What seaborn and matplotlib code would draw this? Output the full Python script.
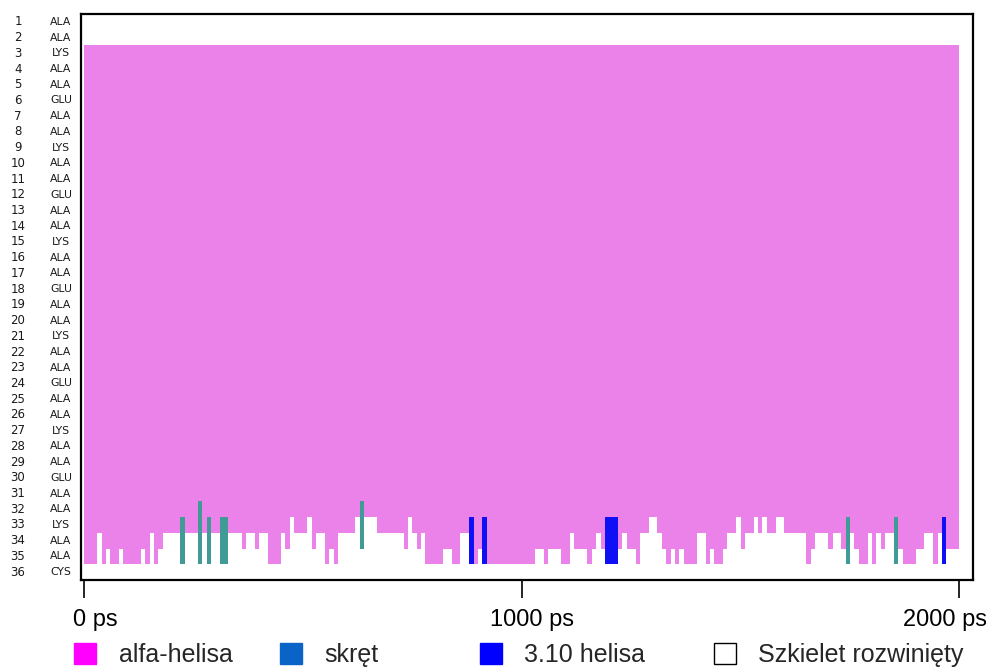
import numpy as np
import pandas as pd
import matplotlib
matplotlib.use("Agg")
import matplotlib.pyplot as plt
import matplotlib.transforms as mtransforms
import seaborn as sns
from matplotlib.colors import ListedColormap
from matplotlib.patches import Patch

# ---------------- data ----------------
residue_numbers = list(range(1, 37))
residue_names = ['ALA', 'ALA', 'LYS', 'ALA', 'ALA', 'GLU', 'ALA', 'ALA', 'LYS',
                 'ALA', 'ALA', 'GLU', 'ALA', 'ALA', 'LYS', 'ALA', 'ALA', 'GLU',
                 'ALA', 'ALA', 'LYS', 'ALA', 'ALA', 'GLU', 'ALA', 'ALA', 'LYS',
                 'ALA', 'ALA', 'GLU', 'ALA', 'ALA', 'LYS', 'ALA', 'ALA', 'CYS']

frame_ps = 10
helix_start = 3
# last alpha-helical residue in each frame (200 frames, 10 ps each)
helix_end = [
    35, 35, 35, 33, 35, 34, 35, 35, 34, 35,
    35, 35, 35, 34, 35, 33, 35, 34, 33, 33,
    33, 33, 32, 33, 33, 33, 31, 33, 32, 33,
    33, 32, 32, 33, 33, 33, 34, 33, 33, 34,
    33, 33, 35, 35, 35, 33, 34, 32, 33, 33,
    33, 32, 34, 33, 33, 35, 34, 35, 33, 33,
    33, 33, 32, 31, 32, 32, 32, 33, 33, 33,
    33, 33, 33, 34, 32, 33, 34, 33, 35, 35,
    35, 35, 34, 34, 35, 35, 33, 33, 32, 35,
    34, 32, 35, 35, 35, 35, 35, 35, 35, 35,
    35, 35, 35, 34, 34, 35, 34, 34, 34, 35,
    35, 33, 34, 34, 34, 35, 34, 33, 34, 32,
    32, 32, 34, 33, 34, 34, 35, 33, 33, 32,
    32, 33, 34, 35, 34, 35, 34, 35, 35, 35,
    33, 33, 35, 34, 35, 35, 34, 33, 33, 32,
    34, 33, 33, 32, 33, 32, 33, 33, 32, 32,
    33, 33, 33, 33, 33, 35, 34, 33, 33, 33,
    34, 33, 33, 34, 32, 33, 34, 35, 35, 33,
    35, 33, 34, 33, 33, 32, 34, 35, 35, 35,
    34, 34, 33, 33, 35, 33, 32, 34, 34, 34,
]
# turns (skret)
turn_frames = [22, 26, 28, 31, 32, 63, 174, 185]
turn_first = [33, 32, 33, 33, 33, 32, 33, 33]
turn_last = [35, 35, 35, 35, 35, 34, 35, 35]
# 3-10 helices
g310_frames = [88, 91, 119, 120, 121, 196]
g310_first = [33, 33, 33, 33, 33, 33]
g310_last = [35, 35, 35, 35, 35, 35]

x_ticks_ps = [0, 1000, 2000]
x_tick_labels = ['0 ps', '1000 ps', '2000 ps']
legend_labels = ['alfa-helisa', 'skręt', '3.10 helisa', 'Szkielet rozwinięty']

# ---------------- build matrix ----------------
n_frames = len(helix_end)
n_res = len(residue_numbers)
codes = np.zeros((n_res, n_frames))
for f, he in enumerate(helix_end):
    codes[helix_start - 1:he, f] = 1
for f, a, b in zip(turn_frames, turn_first, turn_last):
    codes[a - 1:b, f] = 2
for f, a, b in zip(g310_frames, g310_first, g310_last):
    codes[a - 1:b, f] = 3
times = np.arange(n_frames) * frame_ps
df = pd.DataFrame(codes, index=residue_numbers, columns=times)

# ---------------- plot ----------------
sns.set_style("white")
plt.rcParams['font.family'] = ['Liberation Sans', 'DejaVu Sans']

fig = plt.figure(figsize=(9.92, 6.67), dpi=100)
ax = fig.add_axes([81 / 992, 1 - 580 / 667, 892 / 992, 566 / 667])

c_coil, c_alpha, c_turn, c_310 = '#FFFFFF', '#EA82EA', '#409A95', '#1010F5'
cmap = ListedColormap([c_coil, c_alpha, c_turn, c_310])
sns.heatmap(df, cmap=cmap, vmin=-0.5, vmax=3.5, cbar=False, ax=ax,
            xticklabels=False, yticklabels=False, linewidths=0)

ax.set_xlim(-0.7, n_frames + 3.1)
ax.set_ylim(n_res, 0)
for s in ax.spines.values():
    s.set_visible(True)
    s.set_color('black')
    s.set_linewidth(1.6)

ax.set_xticks(np.array(x_ticks_ps) / frame_ps)
ax.set_xticklabels(x_tick_labels, fontsize=17)
ax.tick_params(axis='x', bottom=True, direction='out', length=13, width=1.2,
               pad=8, colors='black')
label_shift_px = [11, 10, -14]
for lab, dx in zip(ax.get_xticklabels(), label_shift_px):
    lab.set_transform(lab.get_transform() +
                      mtransforms.ScaledTranslation(dx / 100, 0, fig.dpi_scale_trans))
ax.set_yticks([])
ax.set_xlabel('')
ax.set_ylabel('')

ytr = ax.get_yaxis_transform()
for i, (num, name) in enumerate(zip(residue_numbers, residue_names)):
    ax.text((18 - 81) / 892, i + 0.5, str(num), transform=ytr, ha='center',
            va='center', fontsize=8.5, family='DejaVu Sans', color='#1a1a1a')
    ax.text((61 - 81) / 892, i + 0.5, name, transform=ytr, ha='center',
            va='center', fontsize=7.8, family='DejaVu Sans', color='#1a1a1a')

legend_colors = ['#FF00FF', '#0A64C8', '#0000FF', '#FFFFFF']
legend_x = [66, 272, 472, 706]
for lab, col, lx in zip(legend_labels, legend_colors, legend_x):
    h = Patch(facecolor=col, edgecolor='black' if col == '#FFFFFF' else col,
              linewidth=1.0)
    fig.legend(handles=[h], labels=[lab], loc='center left',
               bbox_to_anchor=(lx / 992, 1 - 655 / 667), frameon=False,
               fontsize=18, handlelength=0.9, handleheight=0.9,
               handletextpad=0.9, borderaxespad=0, borderpad=0.3)

fig.savefig('out.png', dpi=100)
